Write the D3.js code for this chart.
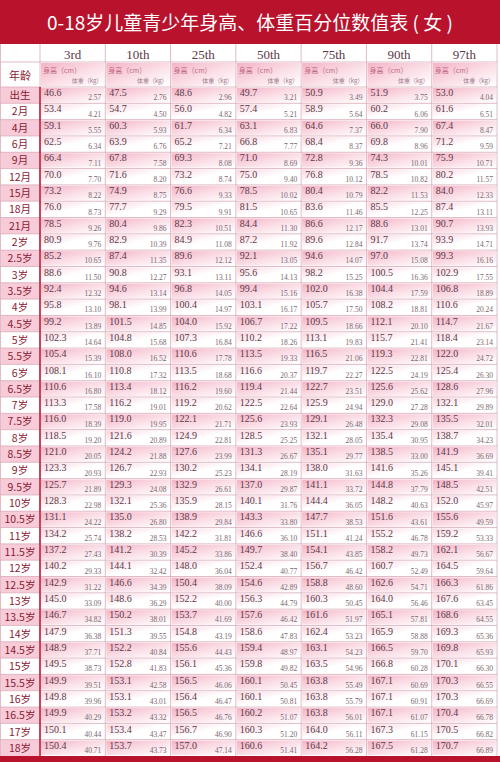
<!DOCTYPE html>
<html><head><meta charset="utf-8">
<script src="https://cdn.jsdelivr.net/npm/d3@7"></script>
<style>body{margin:0;background:#fff}</style></head>
<body><svg id="chart" width="500" height="762"></svg>
<script>
var percentiles = ["3rd","10th","25th","50th","75th","90th","97th"];
var ages = ["出生","2月","4月","6月","9月","12月","15月","18月","21月","2岁","2.5岁","3岁","3.5岁","4岁","4.5岁","5岁","5.5岁","6岁","6.5岁","7岁","7.5岁","8岁","8.5岁","9岁","9.5岁","10岁","10.5岁","11岁","11.5岁","12岁","12.5岁","13岁","13.5岁","14岁","14.5岁","15岁","15.5岁","16岁","16.5岁","17岁","18岁"];
// height (cm), one array per percentile
var h3  = [46.6,53.4,59.1,62.5,66.4,70.0,73.2,76.0,78.5,80.9,85.2,88.6,92.4,95.8,99.2,102.3,105.4,108.1,110.6,113.3,116.0,118.5,121.0,123.3,125.7,128.3,131.1,134.2,137.2,140.2,142.9,145.0,146.7,147.9,148.9,149.5,149.9,149.8,149.9,150.1,150.4];
var h10 = [47.5,54.7,60.3,63.9,67.8,71.6,74.9,77.7,80.4,82.9,87.4,90.8,94.6,98.1,101.5,104.8,108.0,110.8,113.4,116.2,119.0,121.6,124.2,126.7,129.3,132.1,135.0,138.2,141.2,144.1,146.6,148.6,150.2,151.3,152.2,152.8,153.1,153.1,153.2,153.4,153.7];
var h25 = [48.6,56.0,61.7,65.2,69.3,73.2,76.6,79.5,82.3,84.9,89.6,93.1,96.8,100.4,104.0,107.3,110.6,113.5,116.2,119.2,122.1,124.9,127.6,130.2,132.9,135.9,138.9,142.2,145.2,148.0,150.4,152.2,153.7,154.8,155.6,156.1,156.5,156.4,156.5,156.7,157.0];
var h50 = [49.7,57.4,63.1,66.8,71.0,75.0,78.5,81.5,84.4,87.2,92.1,95.6,99.4,103.1,106.7,110.2,113.5,116.6,119.4,122.5,125.6,128.5,131.3,134.1,137.0,140.1,143.3,146.6,149.7,152.4,154.6,156.3,157.6,158.6,159.4,159.8,160.1,160.1,160.2,160.3,160.6];
var h75 = [50.9,58.9,64.6,68.4,72.8,76.8,80.4,83.6,86.6,89.6,94.6,98.2,102.0,105.7,109.5,113.1,116.5,119.7,122.7,125.9,129.1,132.1,135.1,138.0,141.1,144.4,147.7,151.1,154.1,156.7,158.8,160.3,161.6,162.4,163.1,163.5,163.8,163.8,163.8,164.0,164.2];
var h90 = [51.9,60.2,66.0,69.8,74.3,78.5,82.2,85.5,88.6,91.7,97.0,100.5,104.4,108.2,112.1,115.7,119.3,122.5,125.6,129.0,132.3,135.4,138.5,141.6,144.8,148.2,151.6,155.2,158.2,160.7,162.6,164.0,165.1,165.9,166.5,166.8,167.1,167.1,167.1,167.3,167.5];
var h97 = [53.0,61.6,67.4,71.2,75.9,80.2,84.0,87.4,90.7,93.9,99.3,102.9,106.8,110.6,114.7,118.4,122.0,125.4,128.6,132.1,135.5,138.7,141.9,145.1,148.5,152.0,155.6,159.2,162.1,164.5,166.3,167.6,168.6,169.3,169.8,170.1,170.3,170.3,170.4,170.5,170.7];
// weight (kg)
var w3  = [2.57,4.21,5.55,6.34,7.11,7.70,8.22,8.73,9.26,9.76,10.65,11.50,12.32,13.10,13.89,14.64,15.39,16.10,16.80,17.58,18.39,19.20,20.05,20.93,21.89,22.98,24.22,25.74,27.43,29.33,31.22,33.09,34.82,36.38,37.71,38.73,39.51,39.96,40.29,40.44,40.71];
var w10 = [2.76,4.50,5.93,6.76,7.58,8.20,8.75,9.29,9.86,10.39,11.35,12.27,13.14,13.99,14.85,15.68,16.52,17.32,18.12,19.01,19.95,20.89,21.88,22.93,24.08,25.36,26.80,28.53,30.39,32.42,34.39,36.29,38.01,39.55,40.84,41.83,42.58,43.01,43.32,43.47,43.73];
var w25 = [2.96,4.82,6.34,7.21,8.08,8.74,9.33,9.91,10.51,11.08,12.12,13.11,14.05,14.97,15.92,16.84,17.78,18.68,19.60,20.62,21.71,22.81,23.99,25.23,26.61,28.15,29.84,31.81,33.86,36.04,38.09,40.00,41.69,43.19,44.43,45.36,46.06,46.47,46.76,46.90,47.14];
var w50 = [3.21,5.21,6.83,7.77,8.69,9.40,10.02,10.65,11.30,11.92,13.05,14.13,15.16,16.17,17.22,18.26,19.33,20.37,21.44,22.64,23.93,25.25,26.67,28.19,29.87,31.76,33.80,36.10,38.40,40.77,42.89,44.79,46.42,47.83,48.97,49.82,50.45,50.81,51.07,51.20,51.41];
var w75 = [3.49,5.64,7.37,8.37,9.36,10.12,10.79,11.46,12.17,12.84,14.07,15.25,16.38,17.50,18.66,19.83,21.06,22.27,23.51,24.94,26.48,28.05,29.77,31.63,33.72,36.05,38.53,41.24,43.85,46.42,48.60,50.45,51.97,53.23,54.23,54.96,55.49,55.79,56.01,56.11,56.28];
var w90 = [3.75,6.06,7.90,8.96,10.01,10.82,11.53,12.25,13.01,13.74,15.08,16.36,17.59,18.81,20.10,21.41,22.81,24.19,25.62,27.28,29.08,30.95,33.00,35.26,37.79,40.63,43.61,46.78,49.73,52.49,54.71,56.46,57.81,58.88,59.70,60.28,60.69,60.91,61.07,61.15,61.28];
var w97 = [4.04,6.51,8.47,9.59,10.71,11.57,12.33,13.11,13.93,14.71,16.16,17.55,18.89,20.24,21.67,23.14,24.72,26.30,27.96,29.89,32.01,34.23,36.69,39.41,42.51,45.97,49.59,53.33,56.67,59.64,61.86,63.45,64.55,65.36,65.93,66.30,66.55,66.69,66.78,66.82,66.89];

var heights = [h3,h10,h25,h50,h75,h90,h97];
var weights = [w3,w10,w25,w50,w75,w90,w97];

var svg = d3.select("#chart");
var red = "#b8122c", txt = "#5b3a48", lab = "#8a1a33";

var defs = svg.append("defs");
var gp = defs.append("linearGradient").attr("id","gp").attr("x1","0").attr("y1","0").attr("x2","1").attr("y2","1");
gp.append("stop").attr("offset","0").attr("stop-color","#f4b3c6");
gp.append("stop").attr("offset","0.55").attr("stop-color","#fbe0e8");
gp.append("stop").attr("offset","1").attr("stop-color","#fff");
var gw = defs.append("linearGradient").attr("id","gw").attr("x1","0").attr("y1","0").attr("x2","1").attr("y2","1");
gw.append("stop").attr("offset","0").attr("stop-color","#fad4df");
gw.append("stop").attr("offset","0.5").attr("stop-color","#fff");
gw.append("stop").attr("offset","1").attr("stop-color","#fff");

// title band
svg.append("rect").attr("x",0).attr("y",0).attr("width",500).attr("height",44).attr("fill",red);
svg.append("text").attr("x",250).attr("y",30).attr("text-anchor","middle")
  .attr("fill","#fff").attr("font-family","Noto Sans CJK SC").attr("font-size",19)
  .text("0-18岁儿童青少年身高、体重百分位数值表 ( 女 )");
svg.append("rect").attr("x",0).attr("y",756).attr("width",500).attr("height",6).attr("fill",red);

var x = d3.scaleBand().domain(percentiles).range([40,497]);
var y = d3.scaleBand().domain(ages).range([87,756]);
var bw = x.bandwidth(), bh = y.bandwidth();

// header
svg.selectAll(".ph").data(percentiles).enter().append("text")
  .attr("x", function(d){ return x(d)+bw/2; }).attr("y",59).attr("text-anchor","middle")
  .attr("font-family","Liberation Serif").attr("font-size",13).attr("fill",txt).text(function(d){ return d; });
svg.selectAll(".sub").data(percentiles).enter().append("rect")
  .attr("x", function(d){ return x(d)+1; }).attr("y",63).attr("width",bw-2).attr("height",23).attr("fill","url(#gp)");
svg.selectAll(".s1").data(percentiles).enter().append("text")
  .attr("x", function(d){ return x(d)+3; }).attr("y",73).attr("font-family","Noto Sans CJK SC")
  .attr("font-size",7).attr("fill","#c06a85").text("身高（cm）");
svg.selectAll(".s2").data(percentiles).enter().append("text")
  .attr("x", function(d){ return x(d)+bw-3; }).attr("y",83).attr("text-anchor","end").attr("font-family","Noto Sans CJK SC")
  .attr("font-size",6).attr("fill","#a08090").text("体重（kg）");
svg.append("text").attr("x",20).attr("y",80).attr("text-anchor","middle").attr("font-family","Noto Sans CJK SC")
  .attr("font-size",11).attr("fill",lab).text("年龄");

// rows
var rows = svg.selectAll(".row").data(ages).enter().append("g")
  .attr("transform", function(d){ return "translate(0,"+y(d)+")"; });
rows.append("rect").attr("x",1).attr("width",38).attr("height",bh)
  .attr("fill", function(d,i){ return i%2==0 ? "#f8cbd8" : "#fff"; });
rows.append("text").attr("x",20).attr("y",bh/2+4).attr("text-anchor","middle")
  .attr("font-family","Noto Sans CJK SC").attr("font-size",10.5).attr("fill",lab).text(function(d){ return d; });

percentiles.forEach(function(p,j){
  rows.append("rect").attr("x",x(p)+1).attr("y",1).attr("width",bw-2).attr("height",bh-2)
    .attr("fill", function(d,i){ return i%2==0 ? "url(#gp)" : "url(#gw)"; });
  rows.append("text").attr("x",x(p)+4).attr("y",bh/2+1).attr("font-family","Liberation Serif")
    .attr("font-size",10).attr("fill",txt).text(function(d,i){ return heights[j][i].toFixed(1); });
  rows.append("text").attr("x",x(p)+bw-4).attr("y",bh-3).attr("text-anchor","end").attr("font-family","Liberation Serif")
    .attr("font-size",7.5).attr("fill","#7a6670").text(function(d,i){ return weights[j][i].toFixed(2); });
});

// grid lines
var grid = svg.append("g").attr("stroke","#d9a9b8").attr("stroke-width",0.8);
ages.forEach(function(a){ grid.append("line").attr("x1",0).attr("x2",497).attr("y1",y(a)).attr("y2",y(a)); });
grid.append("line").attr("x1",0).attr("x2",497).attr("y1",62).attr("y2",62);
percentiles.forEach(function(p){ grid.append("line").attr("x1",x(p)).attr("x2",x(p)).attr("y1",44).attr("y2",756); });
grid.append("line").attr("x1",497).attr("x2",497).attr("y1",44).attr("y2",756);
grid.append("line").attr("x1",0.5).attr("x2",0.5).attr("y1",44).attr("y2",756);
svg.append("line").attr("x1",40).attr("x2",40).attr("y1",87).attr("y2",756).attr("stroke",red).attr("stroke-width",1.5);
</script></body></html>
